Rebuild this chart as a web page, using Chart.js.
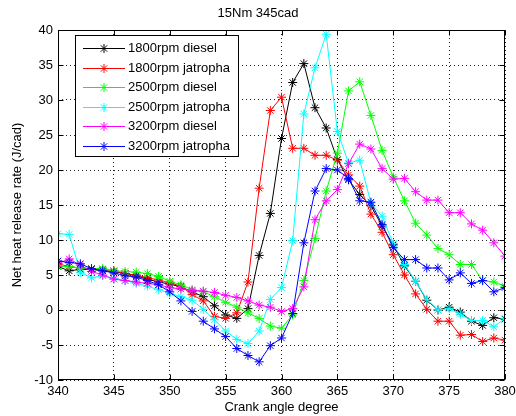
<!DOCTYPE html>
<html>
<head>
<meta charset="utf-8">
<script src="https://cdn.jsdelivr.net/npm/chart.js@4.4.1/dist/chart.umd.min.js"></script>
<style>
  html, body { margin:0; padding:0; background:#fff; }
  #wrap { width:516px; height:416px; }
</style>
</head>
<body>
<div id="wrap"><canvas id="hoChart" width="516" height="416"></canvas></div>
<script>
// ---------- ADATOK (leolvasva az ábráról) ----------
const fokok = [340, 341, 342, 343, 344, 345, 346, 347, 348, 349,
               350, 351, 352, 353, 354, 355, 356, 357, 358, 359,
               360, 361, 362, 363, 364, 365, 366, 367, 368, 369,
               370, 371, 372, 373, 374, 375, 376, 377, 378, 379, 380];

const diesel1800 = [6.2, 5.6, 5.8, 5.8, 5.6, 5.5, 5.2, 4.9, 4.4, 4.0,
                    3.7, 3.3, 2.6, 1.9, 0.6, -0.7, -1.2, 0.2, 7.8, 13.8,
                    24.5, 32.5, 35.2, 28.9, 26.0, 21.5, 18.6, 16.5, 14.9, 12.0,
                    9.3, 6.3, 4.1, 1.4, 0.0, 0.4, -0.3, -1.6, -2.2, -1.1, -1.3];

const jatropha1800 = [6.6, 6.2, 6.0, 5.9, 5.8, 5.6, 5.2, 5.0, 4.6, 4.3,
                      3.9, 3.4, 2.2, 1.3, -0.9, -1.2, -0.4, 4.0, 17.4, 28.5,
                      30.4, 23.1, 23.1, 22.1, 22.1, 21.4, 19.3, 17.7, 13.7, 11.1,
                      7.9, 5.0, 2.3, 0.1, -1.6, -1.6, -3.6, -3.5, -4.5, -4.0, -4.3];

const diesel2500 = [6.3, 6.2, 6.0, 5.9, 5.9, 5.6, 5.5, 5.4, 5.2, 4.8,
                    4.1, 3.6, 2.9, 2.6, 1.9, 1.1, 0.4, -0.4, -1.2, -2.3,
                    -2.6, -0.7, 4.2, 10.2, 17.0, 22.4, 31.3, 32.6, 27.8, 22.8,
                    19.0, 15.6, 12.4, 10.7, 8.8, 7.9, 6.5, 6.5, 4.2, 4.0, 3.4];

const jatropha2500 = [10.9, 10.8, 5.4, 4.6, 4.9, 4.5, 4.2, 3.8, 3.4, 2.9,
                      2.4, 1.9, 1.4, 0.1, -1.4, -3.0, -4.2, -4.8, -3.0, 1.5,
                      3.2, 9.9, 28.0, 34.6, 39.4, 25.5, 21.0, 21.4, 15.3, 13.4,
                      9.5, 6.5, 4.1, 1.5, 0.0, 0.2, -0.6, -1.5, -1.5, -2.4, -1.2];

const diesel3200 = [6.6, 7.3, 6.4, 5.5, 5.0, 4.4, 4.2, 4.0, 3.8, 3.6,
                    3.2, 3.0, 2.8, 2.7, 2.5, 2.1, 1.8, 1.3, 0.7, 0.4,
                    -0.2, 0.2, 3.3, 12.9, 15.6, 17.2, 20.9, 23.7, 23.0, 20.2,
                    18.7, 18.8, 16.9, 15.7, 15.7, 13.9, 13.9, 12.3, 11.4, 9.6, 7.7];

const jatropha3200 = [7.0, 6.8, 6.6, 5.9, 5.6, 5.3, 4.9, 4.7, 4.2, 3.6,
                      2.6, 1.3, -0.2, -1.6, -2.7, -3.8, -5.5, -6.5, -7.4, -5.1,
                      -4.0, -0.5, 9.6, 17.0, 20.2, 20.0, 18.8, 15.6, 15.4, 12.2,
                      8.9, 7.2, 7.2, 6.0, 6.0, 4.3, 5.3, 3.8, 4.2, 2.6, 3.2];

const sorozatNevek = ['1800rpm diesel', '1800rpm jatropha', '2500rpm diesel',
                      '2500rpm jatropha', '3200rpm diesel', '3200rpm jatropha'];
const sorozatok = [diesel1800, jatropha1800, diesel2500, jatropha2500, diesel3200, jatropha3200];
const szinek = ['#000000', '#ff0000', '#00ff00', '#00ffff', '#ff00ff', '#0000ff'];

const cim = '15Nm 345cad';
const xCim = 'Crank angle degree';
const yCim = 'Net heat release rate (J/cad)';

const BETU = "'Liberation Sans', Arial, sans-serif";

// ---------- csillag marker (a jelmagyarázathoz) ----------
function csillag(ctx, x, y, r){
  const d = r * Math.SQRT1_2;
  ctx.moveTo(x - r, y); ctx.lineTo(x + r, y);
  ctx.moveTo(x, y - r); ctx.lineTo(x, y + r);
  ctx.moveTo(x - d, y - d); ctx.lineTo(x + d, y + d);
  ctx.moveTo(x - d, y + d); ctx.lineTo(x + d, y - d);
}

// MATLAB-szerű keret, befelé álló osztásjelek és jelmagyarázat
const keretPlugin = {
  id: 'keret',
  afterDraw(chart){
    const { ctx, chartArea: a, scales: { x, y } } = chart;
    const L = Math.round(a.left) + 0.5, R = Math.round(a.right) - 0.5;
    const T = Math.round(a.top) + 0.5, B = Math.round(a.bottom) - 0.5;
    ctx.save();
    ctx.strokeStyle = '#000';
    ctx.lineWidth = 1;
    ctx.strokeRect(L, T, R - L, B - T);

    ctx.beginPath();
    x.ticks.forEach(t => {
      const px = Math.round(x.getPixelForValue(t.value)) + 0.5;
      ctx.moveTo(px, B); ctx.lineTo(px, B - 5);
      ctx.moveTo(px, T); ctx.lineTo(px, T + 5);
    });
    y.ticks.forEach(t => {
      const py = Math.round(y.getPixelForValue(t.value)) + 0.5;
      ctx.moveTo(L, py); ctx.lineTo(L + 5, py);
      ctx.moveTo(R, py); ctx.lineTo(R - 5, py);
    });
    ctx.stroke();

    // jelmagyarázat
    const bx = 75.5, by = 35.5, bw = 163, bh = 121;
    ctx.fillStyle = '#fff';
    ctx.fillRect(bx, by, bw, bh);
    ctx.strokeStyle = '#000';
    ctx.strokeRect(bx, by, bw, bh);
    ctx.font = '13px ' + BETU;
    ctx.textBaseline = 'middle';
    ctx.textAlign = 'left';
    chart.data.datasets.forEach((ds, i) => {
      const sy = Math.round(48 + i * 19.6) + 0.5;
      ctx.strokeStyle = ds.borderColor;
      ctx.beginPath();
      ctx.moveTo(83, sy); ctx.lineTo(125, sy);
      csillag(ctx, 104, sy, 4.5);
      ctx.stroke();
      ctx.fillStyle = '#000';
      ctx.fillText(ds.label, 128, sy);
    });
    ctx.restore();
  }
};

const adatkeszletek = sorozatok.map((sor, i) => ({
  label: sorozatNevek[i],
  data: sor.map((v, j) => ({ x: fokok[j], y: v })),
  borderColor: szinek[i],
  backgroundColor: szinek[i],
  borderWidth: 1,
  pointStyle: 'star',
  pointRadius: 4.5,
  pointBorderWidth: 1,
  pointHoverRadius: 4.5,
  tension: 0,
  order: sorozatok.length - i
}));

new Chart(document.getElementById('hoChart').getContext('2d'), {
  type: 'line',
  data: { datasets: adatkeszletek },
  options: {
    responsive: false,
    animation: false,
    events: [],
    layout: { padding: { left: 0, right: 0, top: 0, bottom: 0 } },
    plugins: {
      legend: { display: false },
      tooltip: { enabled: false },
      title: {
        display: true, text: cim, color: '#000',
        font: { family: BETU, size: 13, weight: 'normal' },
        padding: { top: 6, bottom: 8.4 }
      }
    },
    scales: {
      x: {
        type: 'linear', min: 340, max: 380,
        ticks: { stepSize: 5, color: '#000', padding: 4, maxRotation: 0, font: { family: BETU, size: 13 } },
        grid: { color: '#222', lineWidth: 1, drawTicks: false },
        border: { display: false, dash: [1, 3] },
        title: { display: true, text: xCim, color: '#000', font: { family: BETU, size: 13 }, padding: { top: 1, bottom: 1 } },
        afterFit(scale){ scale.height = 36; scale.paddingLeft = 0; scale.paddingRight = 11; }
      },
      y: {
        type: 'linear', min: -10, max: 40,
        ticks: { stepSize: 5, color: '#000', padding: 5, font: { family: BETU, size: 13 } },
        grid: { color: '#222', lineWidth: 1, drawTicks: false },
        border: { display: false, dash: [1, 3] },
        title: { display: true, text: yCim, color: '#000', font: { family: BETU, size: 13 }, padding: { top: 10, bottom: 10 } },
        afterFit(scale){ scale.width = 58; scale.paddingTop = 0; scale.paddingBottom = 0; }
      }
    }
  },
  plugins: [keretPlugin]
});
</script>
</body>
</html>
